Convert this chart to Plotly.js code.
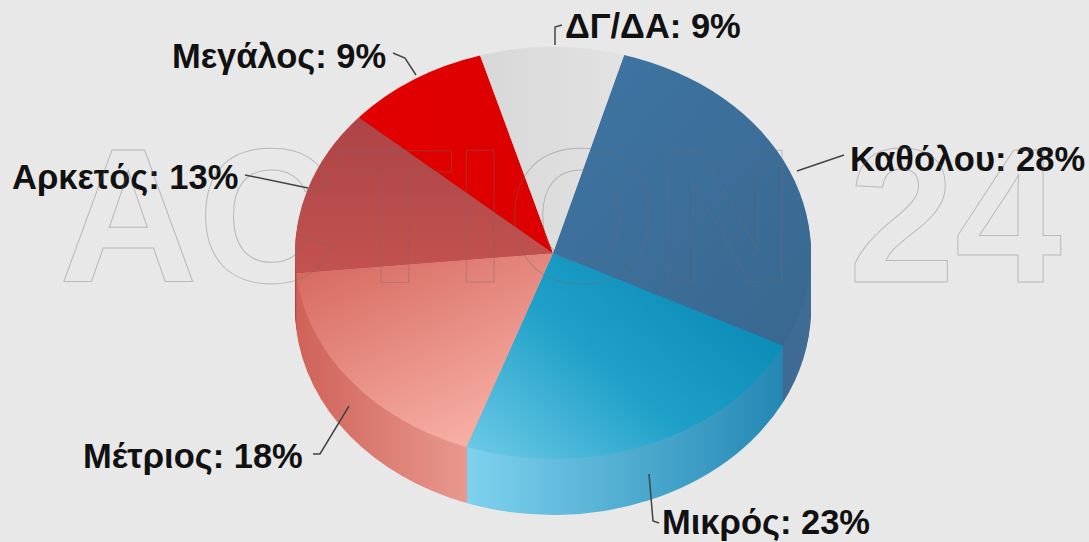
<!DOCTYPE html>
<html><head><meta charset="utf-8">
<script src="https://cdn.plot.ly/plotly-3.0.1.min.js"></script>
<style>html,body{margin:0;padding:0;background:#e8e8e8;overflow:hidden}#chart{width:1089px;height:542px}</style>
</head><body><div id="chart"></div>
<script>
const categories = ['Καθόλου','Μικρός','Μέτριος','Αρκετός','Μεγάλος','ΔΓ/ΔΑ'];
const values = [28,23,18,13,9,9];
const topColours = [['#3f74a3','#38688f'],['#6fcbe8','#1fa0c8','#0688b5'],['#d4655c','#f7aea3'],['#ad4447','#c2524f'],['#e20000','#dc0000'],['#d8d8d8','#e2e2e2']];
const wallColours = [['#33689a','#3f6b94'],['#7ed2ee','#2488b4'],['#cf6259','#f6b4a9'],['#ad4447','#ad4447'],['#b00000','#b00000'],['#c8c8c8','#c8c8c8']];
const labelPos = {'Καθόλου':[848,159],'Μικρός':[660,522],'Μέτριος':[81,456],'Αρκετός':[10,177],'Μεγάλος':[170,56],'ΔΓ/ΔΑ':[563,26]};
const leaders = [
 [[797,171],[844,155]],
 [[649,474],[653,521],[659,523]],
 [[349,406],[320,454],[313,454]],
 [[245,175],[308,188]],
 [[393,53],[405,58],[416,75]],
 [[555,45],[555,27],[562,25]]
];
const W=1089,H=542,cx=553,cy=253,ry=206,rx=258,depth=56,layers=28;
const domainAt=(off)=>({x:[(cx-ry)/W,(cx+ry)/W],y:[1-(cy+ry+off)/H,1-(cy-ry+off)/H]});
const traces=[];
for(let i=layers;i>=0;i--){
  const off=depth*i/layers;
  traces.push({type:'pie',labels:categories,values:values,sort:false,direction:'clockwise',rotation:16,
    domain:domainAt(off),textinfo:'none',hoverinfo:'skip',showlegend:false,
    marker:{colors:(i===0?topColours:wallColours).map(c=>c[0]),line:{width:0}}});
}
const annotations=categories.map((c,i)=>({xref:'paper',yref:'paper',x:labelPos[c][0]/W,y:1-labelPos[c][1]/H,
  xanchor:'left',yanchor:'middle',showarrow:false,text:c+': '+values[i]+'%',
  font:{family:'Liberation Sans',size:34.5,weight:700,color:'#111'}}));
annotations.push({xref:'paper',yref:'paper',x:560/W,y:1-215/H,xanchor:'center',yanchor:'middle',showarrow:false,
  text:'ACTION 24',font:{family:'Liberation Sans',size:192,weight:700,color:'rgba(0,0,0,0)'}});
const shapes=leaders.map(p=>({type:'path',xref:'paper',yref:'paper',
  path:p.map((q,i)=>(i?'L':'M')+(q[0]/W)+' '+(1-q[1]/H)).join(' '),line:{color:'#444',width:1.5}}));
const layout={width:W,height:H,margin:{l:0,r:0,t:0,b:0},paper_bgcolor:'#e8e8e8',plot_bgcolor:'#e8e8e8',
  annotations,shapes,showlegend:false,font:{family:'Liberation Sans'}};
function decorate(){
  const gd=document.getElementById('chart');
  const svg=gd.querySelector('svg.main-svg');
  if(!gd.querySelector('#gradDefs')){
    const NS='http://www.w3.org/2000/svg';
    const defs=document.createElementNS(NS,'defs');defs.id='gradDefs';
    const mk=(id,c,x1,y1,x2,y2)=>{const g=document.createElementNS(NS,'linearGradient');g.id=id;
      g.setAttribute('x1',x1);g.setAttribute('y1',y1);g.setAttribute('x2',x2);g.setAttribute('y2',y2);
      c.forEach((col,k)=>{const s=document.createElementNS(NS,'stop');s.setAttribute('offset',k/(c.length-1));s.setAttribute('stop-color',col);g.appendChild(s);});
      defs.appendChild(g);};
    const dirs=[[0,0,1,1],[0,1,1,0.25],[0,0,0.6,1],[0,0,0,1],[0,0,1,0],[0,0,1,0]];
    topColours.forEach((c,i)=>mk('top'+i,c,...dirs[i]));
    wallColours.forEach((c,i)=>mk('wall'+i,c,0,0,1,0));
    svg.insertBefore(defs,svg.firstChild);
  }
  const pl=gd.querySelector('.pielayer');
  pl.setAttribute('transform',`translate(${cx},0) scale(${rx/ry},1) translate(${-cx},0)`);
  const tr=pl.querySelectorAll('.trace');
  tr.forEach((t,ti)=>{
    t.querySelectorAll('.slice path.surface').forEach((p,i)=>{
      p.style.fill=`url(#${ti===tr.length-1?'top':'wall'}${i})`;
    });
  });
  gd.querySelectorAll('.annotation-text').forEach(t=>{
    if(t.textContent==='ACTION 24'){t.style.stroke='rgba(110,110,110,0.38)';t.style.strokeWidth='1px';}
  });
}
Plotly.newPlot('chart',traces,layout,{displayModeBar:false,staticPlot:true}).then(()=>{
  decorate();
  document.getElementById('chart').on('plotly_afterplot',decorate);
});
</script></body></html>
